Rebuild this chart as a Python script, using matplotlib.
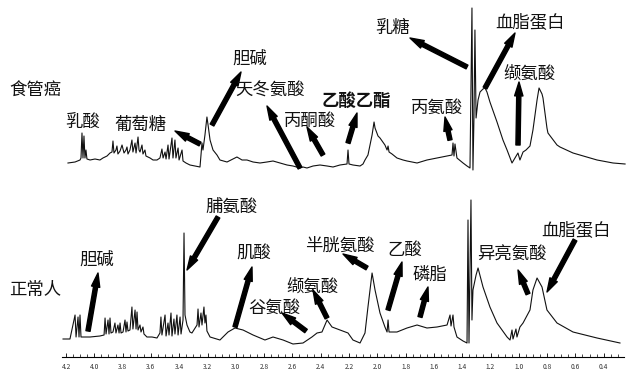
import numpy as np
import matplotlib.pyplot as plt

plt.rcParams['font.family'] = ['Noto Sans CJK SC', 'DejaVu Sans']

# chemical shift (ppm) and peak height for the cancer-patient serum spectrum
cancer_ppm = [4.186, 4.136, 4.101, 4.094, 4.087, 4.080, 4.073, 4.066, 4.059, 4.052,
              4.030, 3.995, 3.960, 3.939, 3.910, 3.889, 3.875, 3.868, 3.861, 3.847,
              3.840, 3.833, 3.818, 3.804, 3.790, 3.776, 3.769, 3.762, 3.748, 3.734,
              3.727, 3.712, 3.705, 3.691, 3.684, 3.677, 3.663, 3.656, 3.642, 3.635,
              3.620, 3.606, 3.585, 3.557, 3.536, 3.522, 3.514, 3.500, 3.493, 3.479,
              3.472, 3.451, 3.444, 3.430, 3.423, 3.408, 3.401, 3.380, 3.373, 3.352,
              3.324, 3.288, 3.253, 3.239, 3.232, 3.218, 3.204, 3.196, 3.182, 3.161,
              3.133, 3.112, 3.062, 3.020, 2.992, 2.956, 2.921, 2.878, 2.829, 2.780,
              2.737, 2.688, 2.638, 2.596, 2.546, 2.525, 2.497, 2.454, 2.405, 2.355,
              2.313, 2.264, 2.214, 2.207, 2.200, 2.172, 2.122, 2.101, 2.087, 2.066,
              2.037, 2.023, 2.016, 1.995, 1.981, 1.946, 1.931, 1.924, 1.917, 1.896,
              1.861, 1.818, 1.790, 1.719, 1.649, 1.578, 1.507, 1.472, 1.465, 1.458,
              1.451, 1.437, 1.394, 1.366, 1.345, 1.331, 1.324, 1.317, 1.310, 1.302,
              1.288, 1.274, 1.253, 1.239, 1.225, 1.204, 1.154, 1.112, 1.083, 1.048,
              1.027, 1.006, 0.992, 0.970, 0.949, 0.921, 0.900, 0.871, 0.857, 0.836,
              0.829, 0.801, 0.794, 0.730, 0.709, 0.617, 0.568, 0.447, 0.334, 0.249]
cancer_int = [12, 13, 15, 17, 42, 17, 39, 17, 25, 16,
              15, 16, 15, 17, 19, 22, 23, 34, 22, 25,
              29, 21, 24, 30, 22, 25, 28, 21, 25, 35,
              23, 32, 22, 38, 25, 23, 30, 21, 25, 19,
              18, 17, 15, 15, 17, 26, 17, 23, 16, 30,
              16, 37, 17, 35, 17, 27, 15, 25, 14, 12,
              10, 9, 8, 32, 25, 40, 58, 50, 35, 25,
              20, 15, 13, 16, 18, 15, 15, 13, 12, 13,
              14, 12, 10, 9, 7, 8, 7, 9, 10, 9,
              8, 10, 11, 25, 11, 10, 9, 11, 15, 20,
              40, 53, 47, 39, 37, 30, 25, 29, 23, 21,
              17, 15, 14, 12, 15, 17, 19, 20, 32, 19,
              31, 17, 12, 9, 7, 167, 5, 57, 145, 57,
              75, 83, 86, 87, 83, 73, 53, 35, 25, 12,
              17, 22, 15, 23, 25, 29, 45, 75, 87, 81,
              77, 47, 42, 30, 28, 22, 20, 15, 12, 11]

# same for the healthy-control serum spectrum
normal_ppm = [4.221, 4.172, 4.136, 4.129, 4.115, 4.108, 4.101, 4.094, 4.080, 4.030,
              3.960, 3.931, 3.924, 3.917, 3.903, 3.896, 3.889, 3.882, 3.868, 3.854,
              3.847, 3.833, 3.825, 3.818, 3.811, 3.797, 3.783, 3.776, 3.769, 3.762,
              3.748, 3.734, 3.727, 3.712, 3.705, 3.698, 3.691, 3.677, 3.670, 3.656,
              3.649, 3.628, 3.592, 3.557, 3.536, 3.529, 3.522, 3.500, 3.493, 3.479,
              3.472, 3.458, 3.451, 3.437, 3.430, 3.416, 3.408, 3.394, 3.387, 3.373,
              3.366, 3.359, 3.345, 3.324, 3.310, 3.274, 3.267, 3.260, 3.246, 3.239,
              3.225, 3.218, 3.211, 3.204, 3.182, 3.112, 3.055, 3.006, 2.949, 2.878,
              2.794, 2.737, 2.666, 2.596, 2.525, 2.462, 2.426, 2.391, 2.355, 2.320,
              2.264, 2.207, 2.172, 2.122, 2.087, 2.066, 2.037, 2.016, 1.981, 1.946,
              1.931, 1.924, 1.917, 1.861, 1.790, 1.719, 1.649, 1.578, 1.507, 1.486,
              1.479, 1.465, 1.458, 1.437, 1.394, 1.366, 1.359, 1.352, 1.338, 1.331,
              1.324, 1.302, 1.288, 1.253, 1.204, 1.154, 1.083, 1.062, 1.048, 1.041,
              1.020, 1.013, 0.992, 0.970, 0.921, 0.900, 0.871, 0.836, 0.801, 0.730,
              0.617, 0.447, 0.285]
normal_int = [6, 6, 30, 8, 28, 8, 30, 8, 8, 8,
              9, 10, 27, 11, 25, 11, 27, 12, 13, 22,
              12, 20, 12, 22, 12, 13, 25, 13, 23, 14,
              15, 38, 16, 35, 16, 33, 15, 20, 13, 18,
              11, 8, 8, 7, 12, 28, 10, 30, 9, 22,
              10, 32, 9, 26, 11, 30, 10, 28, 11, 25,
              112, 30, 20, 13, 12, 20, 36, 18, 32, 20,
              38, 22, 30, 14, 8, 5, 13, 17, 15, 10,
              5, 8, 5, 1, 2, 8, 12, 13, 25, 18,
              15, 12, 5, 2, 12, 38, 72, 55, 32, 18,
              13, 25, 13, 13, 17, 20, 17, 18, 20, 30,
              19, 30, 18, 8, 4, 2, 125, 2, 145, 25,
              55, 70, 77, 58, 38, 22, 8, 5, 15, 6,
              16, 8, 18, 22, 35, 55, 67, 58, 35, 22,
              13, 7, 2]

tick_ppm = [4.2, 4.0, 3.8, 3.6, 3.4, 3.2, 3.0, 2.8, 2.6, 2.4,
            2.2, 2.0, 1.8, 1.6, 1.4, 1.2, 1.0, 0.8, 0.6, 0.4]

# label text, text centre, arrow tail, arrow head (pixels from top-left)
cancer_notes = [
    ('乳酸', (83, 123), None, None),
    ('葡萄糖', (140, 125), (200, 144), (175, 131)),
    ('胆碱', (250, 59), (212, 125), (241, 72)),
    ('天冬氨酸', (270, 91), (300, 168), (267, 106)),
    ('丙酮酸', (310, 121), (323, 155), (307, 127)),
    ('乙酸乙酯', (356, 101), (348, 143), (357, 113)),
    ('丙氨酸', (437, 108), (450, 140), (445, 117)),
    ('乳糖', (393, 28), (467, 67), (410, 38)),
    ('血脂蛋白', (530, 22), (485, 88), (515, 33)),
    ('缬氨酸', (529, 74), (518, 145), (519, 82)),
]
normal_notes = [
    ('胆碱', (97, 260), (88, 331), (98, 273)),
    ('脯氨酸', (231, 207), (218, 217), (187, 270)),
    ('肌酸', (254, 254), (235, 327), (252, 267)),
    ('谷氨酸', (274, 308), (306, 331), (282, 313)),
    ('缬氨酸', (312, 287), (327, 318), (313, 290)),
    ('半胱氨酸', (340, 246), (367, 268), (343, 254)),
    ('乙酸', (405, 250), (388, 310), (402, 262)),
    ('磷脂', (430, 275), (420, 317), (428, 287)),
    ('异亮氨酸', (512, 255), (528, 294), (518, 270)),
    ('血脂蛋白', (576, 230), (575, 240), (547, 292)),
]

W, H = 626, 376
fig = plt.figure(figsize=(W / 100, H / 100), dpi=100)
ax = fig.add_axes([0, 0, 1, 1])
ax.set_xlim(4.2 + 66 / 141.5, 4.2 - 560 / 141.5)
ax.set_ylim(0, H)

top_base, bottom_base = H - 175, H - 345
ax.plot(cancer_ppm, np.array(cancer_int) + top_base, color='#111111', lw=0.8)
ax.plot(normal_ppm, np.array(normal_int) + bottom_base, color='#111111', lw=0.8)


def px(p):
    return (p[0] / W, 1 - p[1] / H)


def annotate(notes):
    for text, pos, tail, head in notes:
        weight = 'bold' if text == '乙酸乙酯' else 'normal'
        ax.text(*px(pos), text, transform=fig.transFigure, ha='center', va='center',
                fontsize=12.5, fontweight=weight, color='#111111')
        if tail is not None:
            ax.annotate('', xy=px(head), xytext=px(tail),
                        xycoords='figure fraction', textcoords='figure fraction',
                        arrowprops=dict(arrowstyle='simple,head_width=0.6,head_length=1.0,tail_width=0.3',
                                        mutation_scale=10, color='black',
                                        shrinkA=0, shrinkB=0))


annotate(cancer_notes)
annotate(normal_notes)

fig.text(*px((35, 91)), '食管癌', ha='center', va='center', fontsize=12.5, color='#111111')
fig.text(*px((35, 290)), '正常人', ha='center', va='center', fontsize=12.5, color='#111111')

# ppm scale along the bottom
for side in ['left', 'right', 'top']:
    ax.spines[side].set_visible(False)
ax.spines['bottom'].set_position(('data', H - 357))
ax.spines['bottom'].set_bounds(4.23, 0.26)
ax.spines['bottom'].set_linewidth(0.8)
ax.set_xticks(tick_ppm)
ax.set_xticklabels([f'{t:.1f}' for t in tick_ppm])
ax.set_xticks(np.arange(0.3, 4.21, 0.05), minor=True)
ax.tick_params(axis='x', which='major', direction='in', length=3, width=0.6,
               labelsize=4.8, labelcolor='#333333', pad=4)
ax.tick_params(axis='x', which='minor', direction='in', length=2, width=0.5)
ax.set_yticks([])
ax.patch.set_visible(False)

fig.savefig('out.png', dpi=100)
